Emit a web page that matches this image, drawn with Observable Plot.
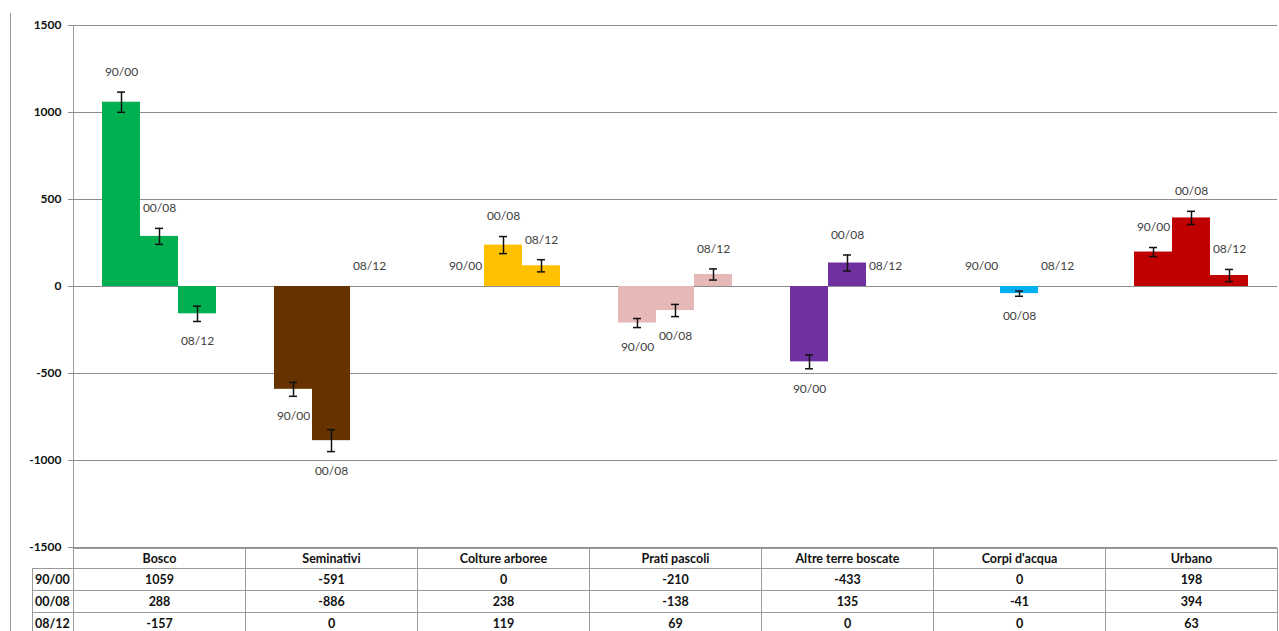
<!DOCTYPE html>
<html>
<head>
<meta charset="utf-8">
<script src="https://cdn.jsdelivr.net/npm/d3@7"></script>
<script src="https://cdn.jsdelivr.net/npm/@observablehq/plot@0.6"></script>
<style>
  html, body { margin: 0; padding: 0; background: #fff; }
  #wrap { position: relative; width: 1279px; height: 631px; overflow: hidden; font-family: Lato, "Open Sans", sans-serif; }
  #leftline { position: absolute; left: 10px; top: 13px; width: 1px; height: 640px; background: #9a9a9a; }
  #axisline { position: absolute; left: 73px; top: 25px; width: 1px; height: 522px; background: #9a9a9a; }
  #chart { position: relative; z-index: 2; height: 548px; }
  #chart svg { display: block; overflow: visible; font-family: Lato, "Open Sans", sans-serif; }
  #table { position: relative; z-index: 1; }
  table { border-collapse: collapse; margin-left: 32px; table-layout: fixed; font-family: Lato, sans-serif; font-weight: bold; font-size: 12.5px; color: #111; }
  td { border: 1px solid #9a9a9a; text-align: center; padding: 0; height: 21px; line-height: 14px; }
  tr.head td { height: 19px; }
  tr.head td.blank { border: none; }
  td.rl { text-align: left; padding-left: 2px; }
</style>
</head>
<body>
<div id="wrap">
  <div id="chart"></div>
  <div id="table"></div>
  <div id="leftline"></div>
  <div id="axisline"></div>
</div>
<script>
const categories = ["Bosco", "Seminativi", "Colture arboree", "Prati pascoli", "Altre terre boscate", "Corpi d'acqua", "Urbano"];
const periods = ["90/00", "00/08", "08/12"];
const values9000 = [1059, -591, 0, -210, -433, 0, 198];
const values0008 = [288, -886, 238, -138, 135, -41, 394];
const values0812 = [-157, 0, 119, 69, 0, 0, 63];
const errors9000 = [58, 40, 0, 26, 40, 0, 26];
const errors0008 = [46, 63, 49, 35, 46, 15, 38];
const errors0812 = [44, 0, 35, 32, 0, 0, 35];
const colors = ["#00B050", "#663300", "#FFC000", "#E6B9B8", "#7030A0", "#00B0F0", "#C00000"];
const yTicks = [-1500, -1000, -500, 0, 500, 1000, 1500];

const valueSets = [values9000, values0008, values0812];
const errorSets = [errors9000, errors0008, errors0812];

const data = categories.flatMap((cat, i) => periods.map((period, j) => ({
  cat, period, value: valueSets[j][i], err: errorSets[j][i], color: colors[i]
})));
const withErr = data.filter(d => d.err > 0);
const bars = data.filter(d => d.value !== 0);
const posLabels = data.filter(d => d.value >= 0);
const negLabels = data.filter(d => d.value < 0);

const chart = Plot.plot({
  width: 1279,
  height: 548,
  marginTop: 25,
  marginBottom: 1,
  marginLeft: 73,
  marginRight: 2,
  fx: {domain: categories, padding: 0, axis: null, label: null},
  x: {domain: periods, paddingInner: 0, paddingOuter: 0.763, axis: null},
  y: {domain: [-1500, 1500], axis: null},
  color: {type: "identity"},
  marks: [
    Plot.ruleY(yTicks, {stroke: "#8e8e8e", strokeWidth: 1}),
    Plot.axisY({ticks: yTicks, tickSize: 5, tickPadding: 7, tickFormat: d => String(d),
      fontWeight: "bold", fontSize: 12, fill: "#111", stroke: "#8e8e8e", label: null}),
    Plot.barY(bars, {fx: "cat", x: "period", y: "value", fill: "color"}),
    Plot.ruleX(withErr, {fx: "cat", x: "period", y1: d => d.value - d.err, y2: d => d.value + d.err, stroke: "#111", strokeWidth: 1.5}),
    Plot.tickY(withErr, {fx: "cat", x: "period", y: d => d.value + d.err, insetLeft: 15, insetRight: 15, stroke: "#111", strokeWidth: 1.5}),
    Plot.tickY(withErr, {fx: "cat", x: "period", y: d => d.value - d.err, insetLeft: 15, insetRight: 15, stroke: "#111", strokeWidth: 1.5}),
    Plot.text(posLabels, {fx: "cat", x: "period", y: d => d.value + d.err, dy: -20, text: "period", fill: "#404040", fontSize: 12}),
    Plot.text(negLabels, {fx: "cat", x: "period", y: d => d.value - d.err, dy: 20, text: "period", fill: "#404040", fontSize: 12})
  ]
});
document.getElementById("chart").appendChild(chart);

// Data table below the chart
const table = document.createElement("table");
const colgroup = document.createElement("colgroup");
const c0 = document.createElement("col"); c0.style.width = "41px"; colgroup.appendChild(c0);
categories.forEach(() => { const c = document.createElement("col"); c.style.width = "172px"; colgroup.appendChild(c); });
table.appendChild(colgroup);
const head = document.createElement("tr");
head.className = "head";
const blank = document.createElement("td"); blank.className = "blank"; head.appendChild(blank);
categories.forEach(c => { const td = document.createElement("td"); td.textContent = c; head.appendChild(td); });
table.appendChild(head);
periods.forEach((p, j) => {
  const tr = document.createElement("tr");
  const rl = document.createElement("td"); rl.className = "rl"; rl.textContent = p; tr.appendChild(rl);
  valueSets[j].forEach(v => { const td = document.createElement("td"); td.textContent = String(v); tr.appendChild(td); });
  table.appendChild(tr);
});
document.getElementById("table").appendChild(table);
</script>
</body>
</html>
